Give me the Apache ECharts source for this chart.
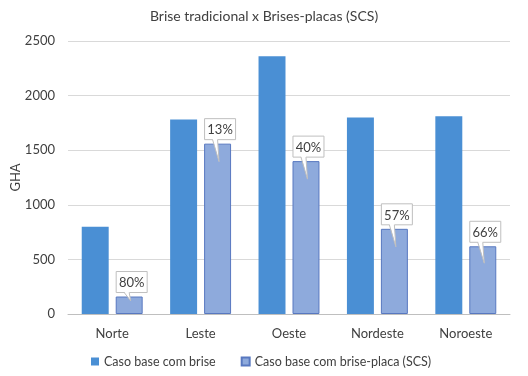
<!DOCTYPE html>
<html>
<head>
<meta charset="utf-8">
<script src="https://cdn.jsdelivr.net/npm/echarts@6/dist/echarts.min.js"></script>
<style>
html, body { margin: 0; background: #fff; }
#chart { width: 528px; height: 376px; }
</style>
</head>
<body>
<div id="chart"></div>
<script>
// dados
const categories = ['Norte', 'Leste', 'Oeste', 'Nordeste', 'Noroeste'];
const casoBrise = [800, 1780, 2360, 1800, 1810];
const casoPlaca = [160, 1560, 1400, 780, 620];
const reducao = ['80%', '13%', '40%', '57%', '66%'];
const yMin = 0, yMax = 2500, yStep = 500;

const font = 'Lato';
let myChart = echarts.init(document.getElementById('chart'));

// balão (callout) sobre a barra clara
function calloutItem(params, api) {
    const top = api.coord([api.value(0), api.value(1)]);
    const base = api.coord([api.value(0), 0]);
    const band = api.size([1, 0])[0];
    const cx = top[0] + band * 0.192;
    const w = 31, h = 21;
    const bx = cx - 13, by = top[1] - 4 - h;
    const tipDy = Math.min(18, (base[1] - top[1]) * 0.25);
    const p1 = [cx - 5, by + h], p2 = [cx, by + h], tip = [cx + 1.5, top[1] + tipDy];
    return {
        type: 'group',
        children: [
            { type: 'rect', shape: { x: bx, y: by, width: w, height: h },
              style: { fill: '#fff', stroke: '#bfbfbf', lineWidth: 1 } },
            { type: 'polygon', shape: { points: [[p1[0], p1[1] - 1], [p2[0], p2[1] - 1], tip] },
              style: { fill: '#fff' } },
            { type: 'polyline', shape: { points: [p1, tip, p2] },
              style: { fill: null, stroke: '#bfbfbf', lineWidth: 1 } },
            { type: 'text', style: { x: bx + w / 2, y: by + h / 2 + 1, text: reducao[params.dataIndex],
              align: 'center', verticalAlign: 'middle', fill: '#404040', font: '13px ' + font } }
        ]
    };
}

myChart.setOption({
    backgroundColor: '#fff',
    animation: false,
    textStyle: { fontFamily: font },
    title: {
        text: 'Brise tradicional x Brises-placas (SCS)',
        left: 'center',
        top: 4,
        textStyle: { fontSize: 14, fontWeight: 'normal', color: '#404040', fontFamily: font }
    },
    grid: { left: 68, right: 18, top: 41, bottom: 62, outerBoundsMode: 'none' },
    legend: {
        bottom: 3,
        left: 86,
        itemWidth: 8,
        itemHeight: 8,
        itemGap: 25,
        icon: 'rect',
        textStyle: { fontSize: 12.5, color: '#404040', fontFamily: font },
        data: ['Caso base com brise', 'Caso base com brise-placa (SCS)']
    },
    xAxis: {
        type: 'category',
        data: categories,
        axisTick: { show: false },
        axisLine: { lineStyle: { color: '#bfbfbf' } },
        axisLabel: { fontSize: 13, color: '#404040', margin: 13 }
    },
    yAxis: {
        type: 'value',
        min: yMin,
        max: yMax,
        interval: yStep,
        name: 'GHA',
        nameLocation: 'middle',
        nameGap: 46,
        nameMoveOverlap: false,
        nameTextStyle: { fontSize: 13, color: '#404040' },
        axisLabel: { fontSize: 13, color: '#404040', margin: 13, formatter: v => String(v) },
        splitLine: { lineStyle: { color: '#d9d9d9' } }
    },
    series: [
        {
            name: 'Caso base com brise',
            type: 'bar',
            data: casoBrise,
            barWidth: '30.5%',
            itemStyle: { color: '#4a8fd4' }
        },
        {
            name: 'Caso base com brise-placa (SCS)',
            type: 'bar',
            data: casoPlaca,
            barWidth: '30.5%',
            barGap: '26%',
            itemStyle: { color: '#8eaadc', borderColor: '#5878c0', borderWidth: 1 }
        },
        {
            type: 'custom',
            renderItem: calloutItem,
            data: casoPlaca.map((v, i) => [i, v]),
            z: 10,
            silent: true
        }
    ]
});
window.onresize = function () { myChart.resize(); };
</script>
</body>
</html>
